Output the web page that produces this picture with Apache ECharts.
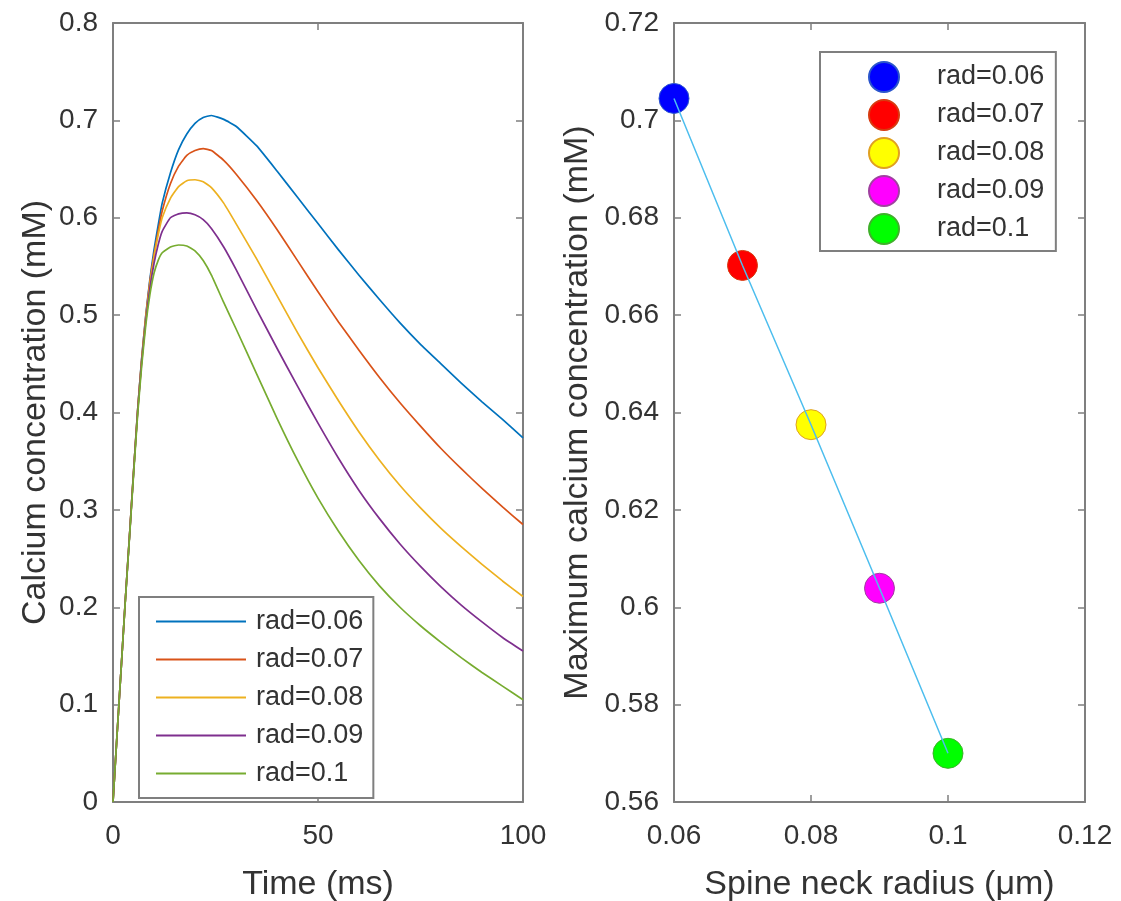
<!DOCTYPE html>
<html>
<head>
<meta charset="utf-8">
<script src="https://cdn.jsdelivr.net/npm/echarts@6/dist/echarts.min.js"></script>
<style>
  html, body { margin: 0; padding: 0; background: #fff; }
  #chart { width: 1121px; height: 901px; }
</style>
</head>
<body>
<div id="chart"></div>
<script>
// ---------- data ----------
const timeMs = [0,1,2,3,4,5,6,7,8,9,10,11,12,14,16,18,20,22,24,27,30,35,40,45,50,55,60,65,70,75,80,85,90,95,100];
const rad006 = [0,0.070,0.138,0.207,0.272,0.338,0.402,0.456,0.500,0.537,0.567,0.592,0.615,0.646,0.670,0.686,0.697,0.703,0.705,0.701,0.694,0.674,0.648,0.621,0.594,0.567,0.541,0.516,0.492,0.470,0.450,0.430,0.411,0.393,0.374];
const rad007 = [0,0.070,0.138,0.207,0.272,0.338,0.402,0.455,0.499,0.535,0.562,0.586,0.607,0.635,0.653,0.664,0.669,0.671,0.669,0.659,0.645,0.618,0.588,0.556,0.524,0.493,0.464,0.436,0.410,0.386,0.363,0.342,0.322,0.303,0.285];
const rad008 = [0,0.070,0.138,0.207,0.272,0.338,0.401,0.454,0.497,0.532,0.560,0.582,0.600,0.620,0.632,0.638,0.639,0.637,0.631,0.615,0.594,0.558,0.520,0.482,0.446,0.412,0.380,0.351,0.325,0.302,0.281,0.262,0.244,0.227,0.211];
const rad009 = [0,0.070,0.138,0.207,0.271,0.337,0.400,0.452,0.494,0.528,0.553,0.572,0.586,0.600,0.604,0.605,0.603,0.598,0.589,0.570,0.547,0.506,0.466,0.427,0.389,0.353,0.320,0.291,0.265,0.242,0.221,0.202,0.185,0.169,0.155];
const rad010 = [0,0.070,0.138,0.206,0.270,0.335,0.397,0.448,0.490,0.521,0.543,0.556,0.564,0.570,0.572,0.571,0.566,0.556,0.541,0.513,0.486,0.440,0.394,0.351,0.312,0.278,0.248,0.222,0.200,0.181,0.164,0.148,0.133,0.119,0.105];
const curveSets = [rad006, rad007, rad008, rad009, rad010];
const radLabels = ['rad=0.06','rad=0.07','rad=0.08','rad=0.09','rad=0.1'];
const neckRadius = [0.06, 0.07, 0.08, 0.09, 0.1];
const peakConc = [0.7045, 0.6702, 0.6375, 0.6039, 0.5700];
const leftYTicks = { min: 0, max: 0.8, interval: 0.1 };
const leftXTicks = { min: 0, max: 100, interval: 50 };
const rightYTicks = { min: 0.56, max: 0.72, interval: 0.02 };
const rightXTicks = { min: 0.06, max: 0.12, interval: 0.02 };

// ---------- styles ----------
const lineColors = ['#0072BD','#D95319','#EDB120','#7E2F8E','#77AC30'];
const dotColors = ['#0000FF','#FF0000','#FFFF00','#FF00FF','#00FF00'];
const dotBorders = ['#2a55cc','#d83a10','#e0a020','#a040a0','#3fb02a'];
const FONT = "'Liberation Sans', Arial, Helvetica, sans-serif";
const TXT = '#333333';
const AX = '#7f7f7f';

function mkAxis(type, gridIndex, ticks, extra) {
  return Object.assign({
    type: 'value', gridIndex: gridIndex,
    min: ticks.min, max: ticks.max, interval: ticks.interval,
    axisLine: { show: true, onZero: false, lineStyle: { color: AX, width: 2 } },
    axisTick: { show: true, inside: true, length: 7, lineStyle: { color: AX, width: 1.5 } },
    splitLine: { show: false },
    axisLabel: { show: true, color: TXT, fontSize: 28, fontFamily: FONT },
    nameTextStyle: { color: TXT, fontSize: 34, fontFamily: FONT }
  }, extra || {});
}

const xAxes = [
  mkAxis('x', 0, leftXTicks, { position: 'bottom', name: 'Time (ms)', nameLocation: 'middle', nameGap: 66, axisLabel: { color: TXT, fontSize: 28, fontFamily: FONT, margin: 20 } }),
  mkAxis('x', 0, leftXTicks, { position: 'top', axisLabel: { show: false } }),
  mkAxis('x', 1, rightXTicks, { position: 'bottom', name: 'Spine neck radius (\u03bcm)', nameLocation: 'middle', nameGap: 66, axisLabel: { color: TXT, fontSize: 28, fontFamily: FONT, margin: 20 } }),
  mkAxis('x', 1, rightXTicks, { position: 'top', axisLabel: { show: false } })
];
const yAxes = [
  mkAxis('y', 0, leftYTicks, { position: 'left', name: 'Calcium concentration (mM)', nameLocation: 'middle', nameGap: 60, axisLabel: { color: TXT, fontSize: 28, fontFamily: FONT, margin: 15 } }),
  mkAxis('y', 0, leftYTicks, { position: 'right', axisLabel: { show: false } }),
  mkAxis('y', 1, rightYTicks, { position: 'left', name: 'Maximum calcium concentration (mM)', nameLocation: 'middle', nameGap: 79, axisLabel: { color: TXT, fontSize: 28, fontFamily: FONT, margin: 15 } }),
  mkAxis('y', 1, rightYTicks, { position: 'right', axisLabel: { show: false } })
];

const series = [];
curveSets.forEach((vals, i) => {
  series.push({
    name: radLabels[i], type: 'line', xAxisIndex: 0, yAxisIndex: 0,
    data: timeMs.map((t, k) => [t, vals[k]]),
    symbol: 'none', smooth: 0.15,
    lineStyle: { color: lineColors[i], width: 1.7, join: 'round' },
    itemStyle: { color: lineColors[i] },
    silent: true
  });
});
const rightNames = radLabels.map(s => s + ' ');
neckRadius.forEach((r, i) => {
  series.push({
    name: rightNames[i], type: 'scatter', xAxisIndex: 2, yAxisIndex: 2,
    data: [[r, peakConc[i]]],
    symbol: 'circle', symbolSize: 30,
    itemStyle: { color: dotColors[i], borderColor: dotBorders[i], borderWidth: 1, opacity: 1 },
    z: 2
  });
});
series.push({
  name: 'fit', type: 'line', xAxisIndex: 2, yAxisIndex: 2,
  data: neckRadius.map((r, i) => [r, peakConc[i]]),
  symbol: 'none', lineStyle: { color: '#4DBEEE', width: 1.5 }, z: 5, silent: true
});

const option = {
  animation: false,
  backgroundColor: '#ffffff',
  textStyle: { fontFamily: FONT },
  grid: [
    { left: 113, top: 23, width: 410, height: 779, containLabel: false, outerBoundsMode: 'none' },
    { left: 674, top: 23, width: 411, height: 779, containLabel: false, outerBoundsMode: 'none' }
  ],
  xAxis: xAxes,
  yAxis: yAxes,
  legend: [
    {
      data: radLabels, orient: 'vertical', left: 139, top: 597,
      icon: 'rect', itemWidth: 90, itemHeight: 2, itemGap: 11,
      padding: [11, 10, 11, 17],
      backgroundColor: '#ffffff', borderColor: AX, borderWidth: 2,
      textStyle: { color: TXT, fontSize: 27, fontFamily: FONT, padding: [0, 0, 0, 5] },
      selectedMode: false
    },
    {
      data: rightNames, orient: 'vertical', left: 820, top: 52,
      icon: 'circle', itemWidth: 96, itemHeight: 30, itemGap: 6,
      padding: [9, 4, 6, 48],
      backgroundColor: '#ffffff', borderColor: AX, borderWidth: 2,
      textStyle: { color: TXT, fontSize: 27, fontFamily: FONT },
      selectedMode: false
    }
  ],
  series: series
};

const chart = echarts.init(document.getElementById('chart'), null, { renderer: 'canvas' });
chart.setOption(option);
</script>
</body>
</html>
